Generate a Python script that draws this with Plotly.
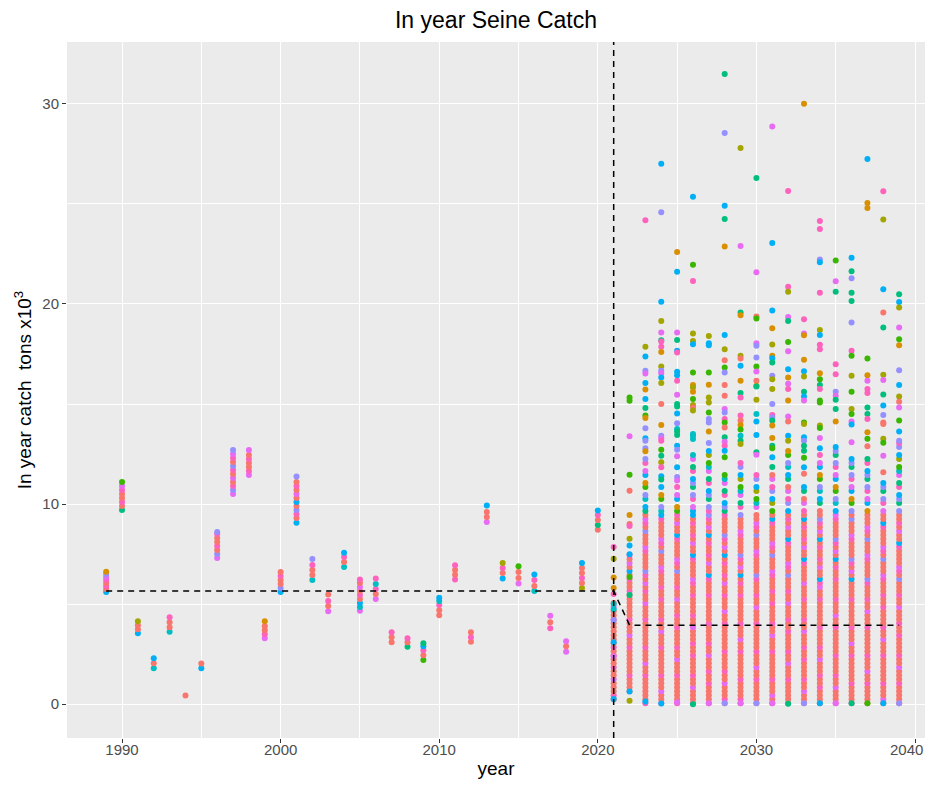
import plotly.graph_objects as go

# ggplot2 hue palette (10 groups)
PALETTE = {'r': '#F8766D', 'o': '#D89000', 'y': '#A3A500', 'g': '#39B600', 't': '#00BF7D',
           'c': '#00BFC4', 'b': '#00B0F6', 'v': '#9590FF', 'm': '#E76BF3', 'p': '#FF62BC'}

# ---------------- historical catches (one cluster per year) ----------------
hist_vals = {
    1989: [5.6, 5.75, 5.9, 6.05, 6.2, 6.35, 6.5, 6.62],
    1990: [9.7, 9.9, 10.1, 10.3, 10.5, 10.7, 10.9, 11.1],
    1991: [3.55, 3.75, 3.95, 4.15],
    1992: [1.8, 2.05, 2.3],
    1993: [3.62, 3.85, 4.1, 4.35],
    1994: [0.43],
    1995: [1.8, 2.03],
    1996: [7.3, 7.5, 7.7, 7.9, 8.1, 8.3, 8.5, 8.6],
    1997: [10.5, 10.7, 10.9, 11.1, 11.3, 11.5, 11.7, 11.9, 12.1, 12.3, 12.5, 12.7],
    1998: [11.45, 11.65, 11.85, 12.05, 12.25, 12.45, 12.7],
    1999: [3.3, 3.5, 3.7, 3.9, 4.15],
    2000: [5.6, 5.8, 6.0, 6.2, 6.4, 6.6],
    2001: [9.07, 9.3, 9.5, 9.7, 9.9, 10.1, 10.3, 10.5, 10.7, 10.9, 11.1, 11.38],
    2002: [6.2, 6.45, 6.7, 6.95, 7.25],
    2003: [4.65, 4.9, 5.15, 5.48],
    2004: [6.86, 7.1, 7.35, 7.57],
    2005: [4.67, 4.85, 5.05, 5.25, 5.45, 5.65, 5.85, 6.05, 6.23],
    2006: [5.25, 5.5, 5.75, 6.0, 6.28],
    2007: [3.1, 3.35, 3.59],
    2008: [2.87, 3.1, 3.29],
    2009: [2.21, 2.45, 2.7, 2.9, 3.04],
    2010: [4.45, 4.7, 4.95, 5.15, 5.32],
    2011: [6.23, 6.47, 6.7, 6.94],
    2012: [3.12, 3.35, 3.59],
    2013: [9.1, 9.35, 9.6, 9.93],
    2014: [6.28, 6.55, 6.8, 7.06],
    2015: [6.03, 6.3, 6.6, 6.89],
    2016: [5.65, 5.9, 6.2, 6.48],
    2017: [3.79, 4.1, 4.42],
    2018: [2.62, 2.9, 3.15],
    2019: [5.81, 6.05, 6.3, 6.55, 6.8, 7.06],
    2020: [8.72, 8.95, 9.2, 9.45, 9.68],
}
hist_cols = {
    1989: "brprpmvo", 1990: "trprrpmg", 1991: "brry", 1992: "crb", 1993: "crrp",
    1994: "r", 1995: "br", 1996: "mvrprrpv", 1997: "mvprmrpvrpmv", 1998: "mprrprm",
    1999: "mprro", 2000: "bvrrpr", 2001: "brpvrbrmrprv", 2002: "crrpv", 2003: "mrpr",
    2004: "crpb", 2005: "mcbrprmrp", 2006: "mrpcp", 2007: "rrp", 2008: "trp",
    2009: "grpbt", 2010: "rrpcb", 2011: "prrp", 2012: "rpr", 2013: "mrrb",
    2014: "brpy", 2015: "mrrg", 2016: "crpb", 2017: "prm", 2018: "mrm",
    2019: "yrprrb", 2020: "rtrpb",
}

# ---------------- projections: dense simulation columns ----------------
proj_years = [2021, 2022, 2023, 2024, 2025, 2026, 2027, 2028, 2029, 2030,
              2031, 2032, 2033, 2034, 2035, 2036, 2037, 2038, 2039]
core_levels = [0.05, 0.25, 0.45, 0.65, 0.85, 1.05, 1.25, 1.45, 1.65, 1.85, 2.05, 2.25, 2.45,
               2.65, 2.85, 3.05, 3.25, 3.45, 3.65, 3.85, 4.05, 4.25, 4.45, 4.65, 4.85, 5.05,
               5.25, 5.45, 5.65, 5.85, 6.05, 6.25, 6.45, 6.65, 6.85, 7.05, 7.25, 7.45, 7.65,
               7.85, 8.05, 8.25, 8.45, 8.65, 8.85, 9.05, 9.25, 9.45, 9.65, 9.85, 10.05, 10.25,
               10.45, 10.65, 10.85, 11.05, 11.25, 11.45, 11.65, 11.85, 12.05, 12.25, 12.45,
               12.65, 12.85, 13.05, 13.25]
core_lo = [0.25, 0.65, 0.05, 0.05, 0.05, 0.05, 0.05, 0.05, 0.05, 0.05,
           0.05, 0.05, 0.05, 0.05, 0.05, 0.05, 0.05, 0.05, 0.05]
core_hi = [5.2, 7.45, 12.3, 11.0, 11.0, 12.6, 13.2, 11.8, 12.3, 11.5,
           12.0, 13.0, 11.0, 12.5, 13.0, 12.6, 12.3, 11.3, 13.2]

# scattered simulation values above / around each column: (value, colour group)
proj_points = {
    2021: [(7.86, 'p'), (7.27, 'y'), (6.33, 'o'), (5.81, 'o'), (5.5, 'p'), (5.0, 'c'), (4.75, 'c'),
           (4.2, 'v'), (3.1, 'b'), (2.4, 'm'), (0.26, 'b')],
    2022: [(15.33, 'g'), (15.16, 'g'), (13.39, 'm'), (11.46, 'g'), (10.66, 'r'), (9.45, 'o'),
           (9.0, 'r'), (8.9, 'p'), (8.27, 'y'), (7.93, 'b'), (7.49, 'b'), (6.36, 'g'), (5.45, 't'),
           (0.63, 'b'), (0.17, 'y')],
    2023: [(24.18, 'p'), (17.86, 'y'), (17.37, 'b'), (16.66, 'v'), (16.53, 'm'), (16.05, 'b'),
           (15.72, 'o'), (15.25, 'b'), (14.8, 't'), (14.42, 'g'), (14.3, 'o'), (13.79, 'v'),
           (13.29, 'b'), (13.17, 'v'), (12.79, 'v'), (12.64, 'o'), (0.13, 'b')],
    2024: [(27.0, 'b'), (24.58, 'v'), (20.11, 'b'), (19.15, 'y'), (18.57, 'm'), (18.19, 't'),
           (18.12, 'p'), (17.86, 'p'), (17.6, 'o'), (16.88, 'y'), (16.66, 'v'), (16.54, 'm'),
           (16.33, 'b'), (16.05, 'y'), (15.0, 'r'), (13.95, 'o'), (13.42, 'v'), (13.29, 'm'),
           (13.17, 'p'), (12.72, 'g'), (12.42, 't'), (12.09, 'y'), (11.84, 'p'), (11.39, 'b'),
           (11.23, 't'), (0.04, 'b')],
    2025: [(22.59, 'o'), (21.61, 'b'), (18.57, 'm'), (18.2, 't'), (17.66, 'b'), (17.57, 'p'),
           (16.61, 'b'), (16.44, 'b'), (16.16, 'p'), (15.46, 'm'), (15.0, 't'), (14.88, 't'),
           (14.53, 'b'), (14.04, 'v'), (13.75, 'c'), (13.62, 't'), (13.45, 't'), (12.92, 'b'),
           (12.72, 'v'), (12.39, 'm'), (11.84, 'b'), (11.35, 'v'), (11.18, 'm'), (0.1, 'm')],
    2026: [(25.36, 'b'), (21.96, 'g'), (21.15, 'p'), (18.52, 'y'), (18.15, 'y'), (17.99, 'b'),
           (16.58, 'g'), (15.95, 'o'), (15.83, 'y'), (15.61, 'o'), (15.25, 'g'), (14.95, 'y'),
           (14.83, 'r'), (14.67, 'y'), (13.5, 'c'), (13.42, 'c'), (13.25, 'c'), (0.0, 't')],
    2027: [(18.4, 'y'), (18.04, 'b'), (17.94, 'b'), (16.58, 'g'), (15.96, 'o'), (15.33, 'y'),
           (15.08, 'y'), (14.58, 'g'), (14.25, 'v'), (14.08, 'v'), (13.62, 'o'), (0.05, 'm')],
    2028: [(31.49, 't'), (28.54, 'v'), (24.91, 'b'), (24.25, 't'), (22.87, 'o'), (18.45, 'b'),
           (17.74, 'y'), (17.19, 'r'), (16.83, 'g'), (16.58, 'v'), (15.95, 'r'), (15.41, 'r'),
           (14.75, 'm'), (14.58, 'v'), (14.25, 'p'), (14.08, 'g'), (13.82, 'r'), (13.34, 't'),
           (13.12, 'm'), (12.92, 'p'), (12.67, 'b'), (12.34, 'g'), (0.05, 'v')],
    2029: [(27.79, 'y'), (22.89, 'm'), (19.57, 't'), (19.43, 'o'), (17.41, 'y'), (17.28, 'r'),
           (16.91, 'b'), (16.16, 'o'), (15.55, 't'), (15.33, 'p'), (14.42, 'p'), (14.17, 'r'),
           (13.95, 'o'), (13.72, 'g'), (13.42, 'c'), (13.17, 't'), (13.0, 'y'), (0.05, 'm')],
    2030: [(26.29, 't'), (21.59, 'm'), (19.37, 'r'), (19.27, 'g'), (18.04, 'm'), (17.91, 'v'),
           (17.33, 'v'), (16.88, 'g'), (16.63, 'm'), (16.16, 'r'), (15.91, 'o'), (15.88, 't'),
           (15.21, 'y'), (14.5, 'c'), (14.12, 'b'), (13.45, 'b'), (12.59, 't'), (12.46, 'm'),
           (0.05, 'v')],
    2031: [(28.87, 'm'), (23.05, 'b'), (19.67, 'b'), (18.79, 'o'), (17.97, 'y'), (17.41, 'o'),
           (17.29, 'b'), (17.07, 't'), (16.41, 'v'), (16.24, 'y'), (15.75, 'y'), (15.0, 'v'),
           (14.45, 'p'), (14.33, 'v'), (14.17, 't'), (13.92, 'o'), (13.3, 'o'), (12.92, 't'),
           (12.79, 'g'), (12.34, 'b'), (0.05, 'm')],
    2032: [(25.65, 'p'), (20.86, 'p'), (20.61, 'y'), (19.35, 'm'), (19.15, 't'), (18.1, 'g'),
           (17.64, 'm'), (16.74, 'b'), (16.33, 'o'), (16.01, 'm'), (15.75, 'p'), (15.17, 'o'),
           (14.37, 'm'), (14.12, 'r'), (13.42, 'b'), (13.17, 'y'), (0.02, 't')],
    2033: [(30.0, 'o'), (19.24, 'p'), (18.52, 'm'), (18.44, 'o'), (17.21, 'o'), (16.64, 'b'),
           (16.38, 'y'), (15.61, 't'), (15.38, 'b'), (15.17, 'm'), (14.08, 'g'), (14.0, 'y'),
           (13.34, 'b'), (13.17, 'v'), (12.92, 't'), (12.67, 't'), (12.31, 'g'), (11.84, 'b'),
           (11.51, 'r'), (0.05, 'v')],
    2034: [(24.15, 'p'), (23.75, 'p'), (22.22, 'v'), (22.09, 'b'), (20.56, 'p'), (18.7, 'y'),
           (18.45, 'b'), (17.96, 'p'), (17.74, 'p'), (16.54, 'o'), (16.24, 'g'), (15.95, 't'),
           (15.75, 'p'), (15.17, 'g'), (15.08, 'g'), (13.92, 'y'), (13.8, 'g'), (13.3, 'm'),
           (12.79, 'b'), (0.05, 'b')],
    2035: [(22.17, 'g'), (21.13, 'm'), (20.61, 't'), (16.99, 'p'), (16.49, 'p'), (15.61, 'v'),
           (15.41, 'm'), (15.21, 't'), (14.75, 't'), (14.12, 'o'), (0.05, 'm')],
    2036: [(22.31, 'b'), (21.64, 't'), (21.28, 'v'), (20.56, 't'), (20.15, 't'), (19.07, 'v'),
           (17.66, 'p'), (17.41, 'g'), (16.41, 'y'), (15.61, 'g'), (14.75, 'y'), (14.5, 'g'),
           (14.12, 'm'), (13.97, 'b'), (13.09, 'm'), (0.05, 't')],
    2037: [(27.24, 'b'), (25.05, 'o'), (24.8, 'o'), (17.27, 'g'), (16.44, 'o'), (16.16, 'm'),
           (15.75, 'p'), (15.55, 'p'), (14.83, 't'), (14.5, 't'), (14.25, 'p'), (13.59, 'o'),
           (13.26, 'g'), (12.89, 'r'), (0.05, 'g')],
    2038: [(25.63, 'p'), (24.22, 'y'), (20.73, 'b'), (19.57, 'r'), (18.82, 't'), (16.46, 'y'),
           (16.2, 'm'), (15.48, 't'), (14.92, 'b'), (14.45, 'v'), (14.08, 'r'), (14.0, 'r'),
           (13.26, 'y'), (13.06, 'g'), (12.42, 'm'), (11.59, 'r'), (0.05, 'b')],
    2039: [(20.48, 't'), (20.1, 'b'), (19.82, 'y'), (18.82, 'm'), (18.24, 'g'), (17.94, 'o'),
           (16.69, 'v'), (15.95, 'b'), (15.38, 'y'), (15.11, 'r'), (14.83, 'm'), (14.17, 'g'),
           (13.62, 'b'), (13.17, 'v'), (0.05, 'v')],
}

# reference (median) catch line and start of projection period
ref_years = [1989, 2021, 2022, 2039]
ref_vals = [5.65, 5.65, 3.95, 3.95]
proj_start = 2021

# axis ticks
x_ticks = [1990, 2000, 2010, 2020, 2030, 2040]
x_minor = [1995, 2005, 2015, 2025, 2035]
y_ticks = [0, 10, 20, 30]
y_minor = [5, 15, 25]

# colour sequences used for the overlapping points inside the dense columns (styling only)
pat_low = "rrprrrmrrprrrrprrrrrrprrmrrrprrrrrrprrrmrrprrrrp"
pat_mid = "rrprbrmrpvrrrrpmrrrvrpmrrrrpbrrmrp"
pat_high = "vb.pt.mcg.yb.vp.mr.tb.cv.go.bm.pv.t"

xs, ys, cs = [], [], []
for yr, vals in hist_vals.items():
    cols = hist_cols[yr]
    for v, c in zip(vals, cols):
        xs.append(yr); ys.append(v); cs.append(PALETTE[c])

for k, yr in enumerate(proj_years):
    for i, lev in enumerate(core_levels):
        if lev < core_lo[k] or lev > core_hi[k]:
            continue
        if lev < 6:
            c = pat_low[(i + 7 * k) % len(pat_low)]
        elif lev < 9.5:
            c = pat_mid[(i + 5 * k) % len(pat_mid)]
        else:
            c = pat_high[(i + 3 * k) % len(pat_high)]
        if c == '.':
            continue
        xs.append(yr); ys.append(lev); cs.append(PALETTE[c])
    for v, c in proj_points[yr]:
        xs.append(yr); ys.append(v); cs.append(PALETTE[c])

fig = go.Figure()
fig.add_trace(go.Scatter(x=xs, y=ys, mode="markers",
                         marker=dict(color=cs, size=6, line=dict(width=0)),
                         showlegend=False, hoverinfo="x+y"))
fig.add_trace(go.Scatter(x=ref_years, y=ref_vals, mode="lines",
                         line=dict(color="black", width=1.5, dash="6px,5px"),
                         showlegend=False))
fig.add_shape(type="line", xref="x", yref="paper", x0=proj_start, x1=proj_start, y0=0, y1=1,
              line=dict(color="black", width=1.5, dash="6px,5px"))

FONT = "Liberation Sans, Arial, sans-serif"
W, H = 917, 771  # page body adds an 8px offset; keep the page inside the window
TICKFONT = dict(size=15, color="#4D4D4D", family=FONT)

# the last x tick label sits at the window edge: draw it right-aligned so it stays whole
ticktext = [str(t) for t in x_ticks[:-1]] + [""]
fig.add_annotation(text=str(x_ticks[-1]), xref="paper", yref="paper", x=1, y=0,
                   xanchor="right", yanchor="middle", yshift=-11, showarrow=False,
                   font=TICKFONT)

fig.update_layout(
    width=W, height=H,
    margin=dict(l=59, r=0, t=34, b=41),
    paper_bgcolor="white", plot_bgcolor="#EBEBEB",
    font=dict(family=FONT, color="black"),
    title=dict(text="In year Seine Catch", x=0.5, xref="paper", xanchor="center",
               y=1 - 12 / H, yref="container", yanchor="middle",
               font=dict(size=23, color="black", family=FONT)),
)
fig.update_xaxes(
    range=[1986.53, 2040.63], tickvals=x_ticks, ticktext=ticktext,
    showgrid=True, gridcolor="white", gridwidth=1.4, zeroline=False, showline=False,
    ticks="outside", ticklen=4, tickwidth=1, tickcolor="#333333",
    tickfont=TICKFONT, ticklabelstandoff=-6,
    minor=dict(tickvals=x_minor, showgrid=True, gridcolor="white", gridwidth=0.7),
    title=dict(text="year", font=dict(size=19, color="black"), standoff=7),
    automargin=False,
)
fig.update_yaxes(
    range=[-1.69, 33.09], tickvals=y_ticks,
    showgrid=True, gridcolor="white", gridwidth=1.4, zeroline=False, showline=False,
    ticks="outside", ticklen=4, tickwidth=1, tickcolor="#333333",
    tickfont=TICKFONT,
    minor=dict(tickvals=y_minor, showgrid=True, gridcolor="white", gridwidth=0.7),
    title=dict(text="In year catch  tons x10<sup>3</sup>", font=dict(size=19, color="black"), standoff=5),
    automargin=False,
)

fig.write_html("out.html")
